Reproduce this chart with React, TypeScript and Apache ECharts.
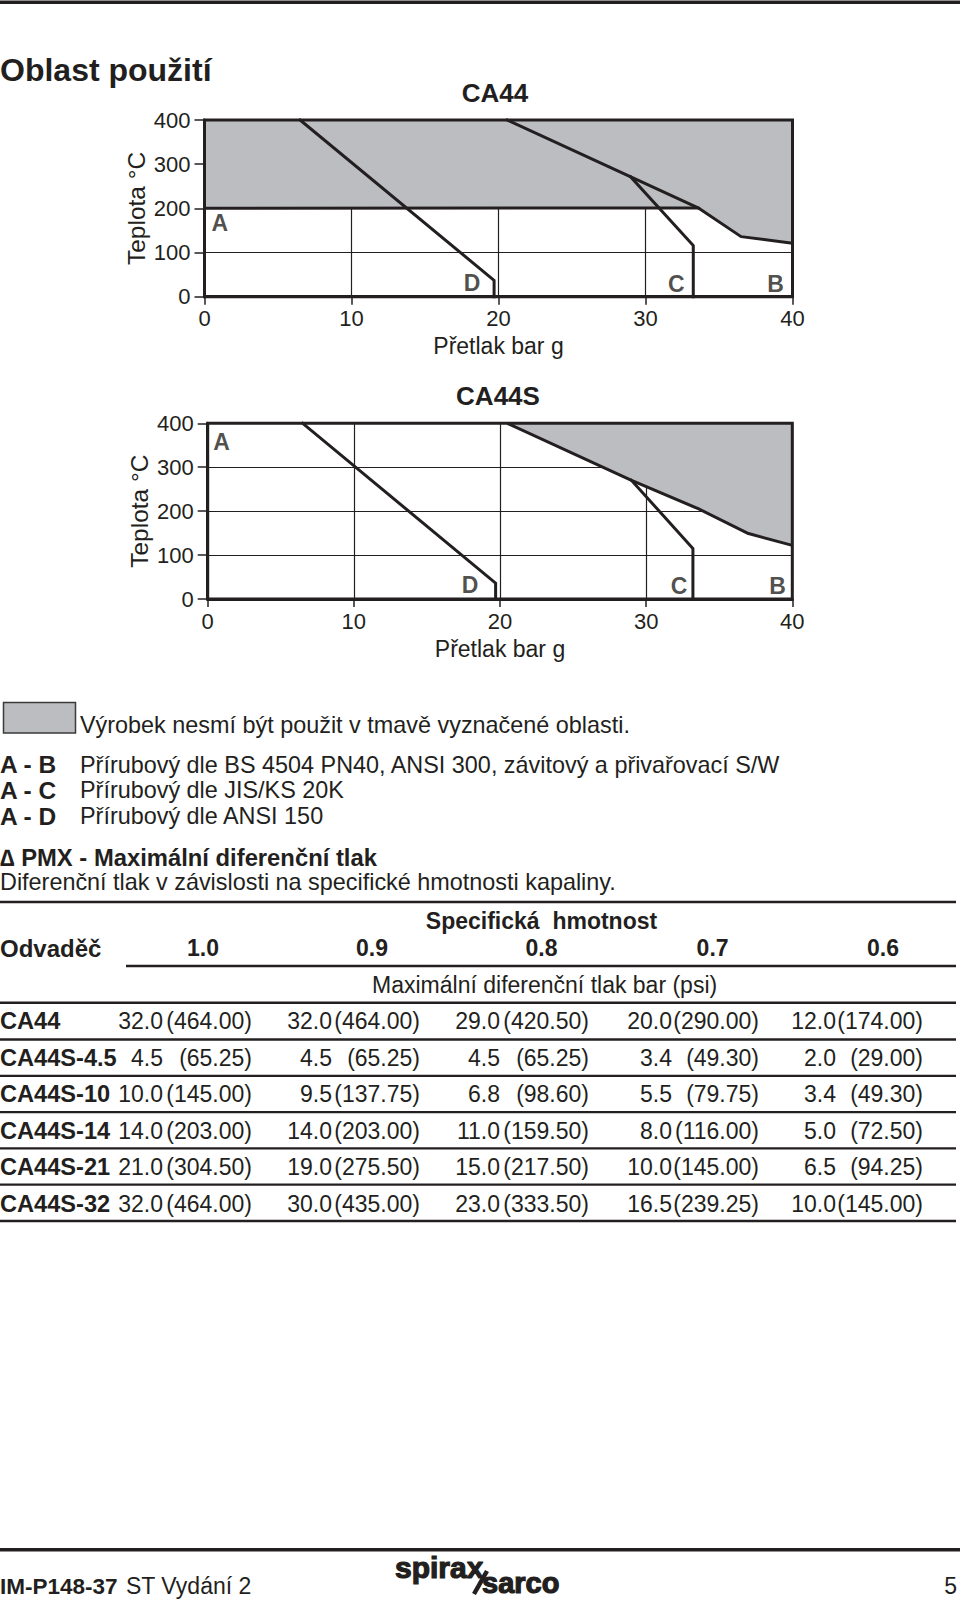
import React, { useEffect, useRef } from "react";
import * as echarts from "echarts";

const INK = "#231f20";
const SHADE = "#bcbdc0";
const FONT = "'Liberation Sans', Arial, Helvetica, sans-serif";

// ---------- texts ----------
const pageTitle = "Oblast použití";
const chartTitles = ["CA44", "CA44S"];
const xAxisName = "Přetlak bar g";
const yAxisName = "Teplota °C";
const legendText = "Výrobek nesmí být použit v tmavě vyznačené oblasti.";
const connKeys = ["A - B", "A - C", "A - D"];
const connTexts = [
  "Přírubový dle BS 4504 PN40, ANSI 300, závitový a přivařovací S/W",
  "Přírubový dle JIS/KS 20K",
  "Přírubový dle ANSI 150",
];
const pmxTitle = "∆ PMX - Maximální diferenční tlak";
const pmxSubtitle = "Diferenční tlak v závislosti na specifické hmotnosti kapaliny.";
const tableGroupHeader = "Specifická  hmotnost";
const tableRowHeader = "Odvaděč";
const tableUnitHeader = "Maximální diferenční tlak bar (psi)";
const footerCode = "IM-P148-37";
const footerEdition = "ST Vydání 2";
const pageNumber = "5";

// ---------- axes ----------
const pressureMin = 0;
const pressureMax = 40;
const pressureStep = 10;
const tempMin = 0;
const tempMax = 400;
const tempStep = 100;

// ---------- chart data (pressure bar g, temperature °C) ----------
const ca44ShadeBoundary = [[0, 200], [33.6, 201], [36.5, 136], [40, 121]];
const ca44LineB = [[20.6, 400], [29, 271], [33.6, 201]];
const ca44LineC = [[29, 271], [33.25, 116], [33.25, 0]];
const ca44LineD = [[6.5, 400], [19.7, 37], [19.7, 0]];
const ca44Labels = [
  { name: "A", value: [1.05, 167] },
  { name: "D", value: [18.2, 31] },
  { name: "C", value: [32.1, 29] },
  { name: "B", value: [38.85, 29] },
];

const ca44sShadeBoundary = [[20.5, 400], [29, 270], [33.6, 205], [37, 149], [40, 122]];
const ca44sLineC = [[29, 270], [33.2, 115], [33.2, 0]];
const ca44sLineD = [[6.5, 400], [19.7, 36], [19.7, 0]];
const ca44sLabels = [
  { name: "A", value: [0.95, 358] },
  { name: "D", value: [17.95, 32] },
  { name: "C", value: [32.25, 30] },
  { name: "B", value: [39.0, 30] },
];

const frameData = [[0, 0], [0, 400], [40, 400], [40, 0], [0, 0]];

// ---------- table data ----------
const gravities = ["1.0", "0.9", "0.8", "0.7", "0.6"];
const traps = ["CA44", "CA44S-4.5", "CA44S-10", "CA44S-14", "CA44S-21", "CA44S-32"];
const pmxBar = [
  [32.0, 32.0, 29.0, 20.0, 12.0],
  [4.5, 4.5, 4.5, 3.4, 2.0],
  [10.0, 9.5, 6.8, 5.5, 3.4],
  [14.0, 14.0, 11.0, 8.0, 5.0],
  [21.0, 19.0, 15.0, 10.0, 6.5],
  [32.0, 30.0, 23.0, 16.5, 10.0],
];
const pmxPsi = [
  [464.0, 464.0, 420.5, 290.0, 174.0],
  [65.25, 65.25, 65.25, 49.3, 29.0],
  [145.0, 137.75, 98.6, 79.75, 49.3],
  [203.0, 203.0, 159.5, 116.0, 72.5],
  [304.5, 275.5, 217.5, 145.0, 94.25],
  [464.0, 435.0, 333.5, 239.25, 145.0],
];

// ---------- layout ----------
const grids = [
  { left: 204.5, top: 120, width: 588, height: 176.7 },
  { left: 207.7, top: 423.3, width: 584.6, height: 175.7 },
];
const colCenters = [203, 372, 541.5, 712.6, 883];
const barRight = [163, 332, 500, 672, 836];
const psiRight = [252, 420, 589, 759, 923];
const BODY = 23.4;

function txt(x: number, y: number, text: string, size: number, weight: string, align = "left", extra: any = {}) {
  return {
    type: "text",
    x,
    y,
    silent: true,
    style: {
      text,
      fill: INK,
      fontSize: size,
      fontWeight: weight,
      fontFamily: FONT,
      align,
      verticalAlign: "middle",
      textAlign: align,
      textVerticalAlign: "middle",
      ...extra,
    },
  };
}

function hline(x1: number, x2: number, y: number, w: number) {
  return {
    type: "line",
    silent: true,
    shape: { x1, y1: y, x2, y2: y },
    style: { stroke: INK, lineWidth: w },
  };
}

function lineSeries(i: number, data: number[][], z = 3) {
  return {
    type: "line",
    xAxisIndex: i,
    yAxisIndex: i,
    data,
    symbol: "none",
    clip: false,
    silent: true,
    z,
    lineStyle: { color: INK, width: 3, cap: "square", join: "miter" },
  };
}

function shadeSeries(i: number, data: number[][]) {
  return {
    type: "line",
    xAxisIndex: i,
    yAxisIndex: i,
    data,
    symbol: "none",
    clip: false,
    silent: true,
    z: 2,
    lineStyle: { color: INK, width: 3 },
    areaStyle: { color: SHADE, opacity: 1, origin: "end" },
  };
}

function labelSeries(i: number, data: any[]) {
  return {
    type: "scatter",
    xAxisIndex: i,
    yAxisIndex: i,
    data,
    symbolSize: 1,
    silent: true,
    z: 6,
    itemStyle: { color: "rgba(0,0,0,0)" },
    label: {
      show: true,
      position: "inside",
      formatter: (p: any) => p.name,
      color: INK,
      fontSize: 23,
      fontWeight: "bold",
      fontFamily: FONT,
    },
  };
}

function xAxisFor(i: number) {
  return {
    type: "value",
    gridIndex: i,
    min: pressureMin,
    max: pressureMax,
    interval: pressureStep,
    name: xAxisName,
    nameLocation: "middle",
    nameGap: 38,
    nameMoveOverlap: false,
    nameTextStyle: { color: INK, fontSize: 23, fontFamily: FONT },
    axisLine: { show: true, lineStyle: { color: INK, width: 3 } },
    axisTick: { show: true, length: 8, lineStyle: { color: INK, width: 1.5 } },
    axisLabel: { color: INK, fontSize: 22, fontFamily: FONT, margin: 11 },
    splitLine: { show: true, lineStyle: { color: INK, width: 1.2 } },
  };
}

function yAxisFor(i: number) {
  return {
    type: "value",
    gridIndex: i,
    min: tempMin,
    max: tempMax,
    interval: tempStep,
    name: yAxisName,
    nameLocation: "middle",
    nameGap: 56,
    nameMoveOverlap: false,
    nameRotate: 90,
    nameTextStyle: { color: INK, fontSize: 24.5, fontFamily: FONT },
    axisLine: { show: true, lineStyle: { color: INK, width: 3 } },
    axisTick: { show: true, length: 10, lineStyle: { color: INK, width: 1.5 } },
    axisLabel: { color: INK, fontSize: 22, fontFamily: FONT, margin: 14 },
    splitLine: { show: true, lineStyle: { color: INK, width: 1.2 } },
  };
}

function buildGraphics() {
  const els: any[] = [];
  // top rule
  els.push({ type: "rect", silent: true, shape: { x: 0, y: 0.5, width: 960, height: 3.5 }, style: { fill: INK } });
  els.push(txt(0, 69.5, pageTitle, 32, "bold"));
  els.push(txt(495, 92.6, chartTitles[0], 26, "bold", "center"));
  els.push(txt(498, 396, chartTitles[1], 26, "bold", "center"));

  // legend swatch
  els.push({
    type: "rect",
    silent: true,
    shape: { x: 3.5, y: 702.5, width: 72, height: 30.5 },
    style: { fill: SHADE, stroke: "#3a3a3a", lineWidth: 1.5 },
  });
  els.push(txt(80, 725, legendText, BODY, "normal"));

  const connY = [764.7, 790.3, 816];
  connKeys.forEach((k, i) => {
    els.push(txt(0, connY[i], k, 24.5, "bold"));
    els.push(txt(80, connY[i], connTexts[i], BODY, "normal"));
  });
  els.push(txt(0, 857, pmxTitle, 23.8, "bold"));
  els.push(txt(0, 882, pmxSubtitle, BODY, "normal"));

  // table
  els.push(hline(0, 956, 902, 2.6));
  els.push(txt(541.5, 921.3, tableGroupHeader, 23, "bold", "center"));
  els.push(txt(0, 948, tableRowHeader, 24, "bold"));
  gravities.forEach((g, j) => els.push(txt(colCenters[j], 948, g, 23, "bold", "center")));
  els.push(hline(126, 956, 966, 2.6));
  els.push(txt(544.6, 985.3, tableUnitHeader, 23, "normal", "center"));
  els.push(hline(0, 956, 1002.8, 2.6));

  traps.forEach((t, i) => {
    const y = 1021.3 + i * 36.5;
    els.push(txt(0, y, t, 23.6, "bold"));
    pmxBar[i].forEach((v, j) => {
      els.push(txt(barRight[j], y, v.toFixed(1), 23, "normal", "right"));
      els.push(txt(psiRight[j], y, "(" + pmxPsi[i][j].toFixed(2) + ")", 23, "normal", "right"));
    });
    els.push(hline(0, 956, 1039.5 + i * 36.3, 2.3));
  });

  // footer
  els.push({ type: "rect", silent: true, shape: { x: 0, y: 1548, width: 960, height: 3.5 }, style: { fill: INK } });
  els.push(txt(0, 1586, footerCode, 22.5, "bold"));
  els.push(txt(126, 1586, footerEdition, 23, "normal"));
  els.push(txt(957, 1586, pageNumber, 23, "normal", "right"));
  // logo
  const heavy = { stroke: INK, lineWidth: 1.2 };
  els.push(txt(395, 1567, "spirax", 30, "bold", "left", heavy));
  els.push(txt(482, 1582.5, "sarco", 29, "bold", "left", heavy));
  els.push({
    type: "line",
    silent: true,
    shape: { x1: 474, y1: 1594, x2: 487, y2: 1571 },
    style: { stroke: INK, lineWidth: 4.5 },
  });
  return els;
}

export default function App() {
  const ref = useRef<HTMLDivElement>(null);
  useEffect(() => {
    if (!ref.current) return;
    const chart = echarts.init(ref.current, null, { renderer: "svg" });
    const option: any = {
      animation: false,
      backgroundColor: "#ffffff",
      textStyle: { fontFamily: FONT, color: INK },
      grid: grids.map((g) => ({ ...g, containLabel: false })),
      xAxis: [xAxisFor(0), xAxisFor(1)],
      yAxis: [yAxisFor(0), yAxisFor(1)],
      series: [
        shadeSeries(0, ca44ShadeBoundary),
        lineSeries(0, ca44LineB),
        lineSeries(0, ca44LineC),
        lineSeries(0, ca44LineD),
        lineSeries(0, frameData, 4),
        labelSeries(0, ca44Labels),
        shadeSeries(1, ca44sShadeBoundary),
        lineSeries(1, ca44sLineC),
        lineSeries(1, ca44sLineD),
        lineSeries(1, frameData, 4),
        labelSeries(1, ca44sLabels),
      ],
      graphic: { elements: buildGraphics() },
    };
    chart.setOption(option);
    return () => chart.dispose();
  }, []);
  return (
    <div
      ref={ref}
      style={{ position: "absolute", left: 0, top: 0, width: 960, height: 1604, background: "#fff" }}
    />
  );
}
